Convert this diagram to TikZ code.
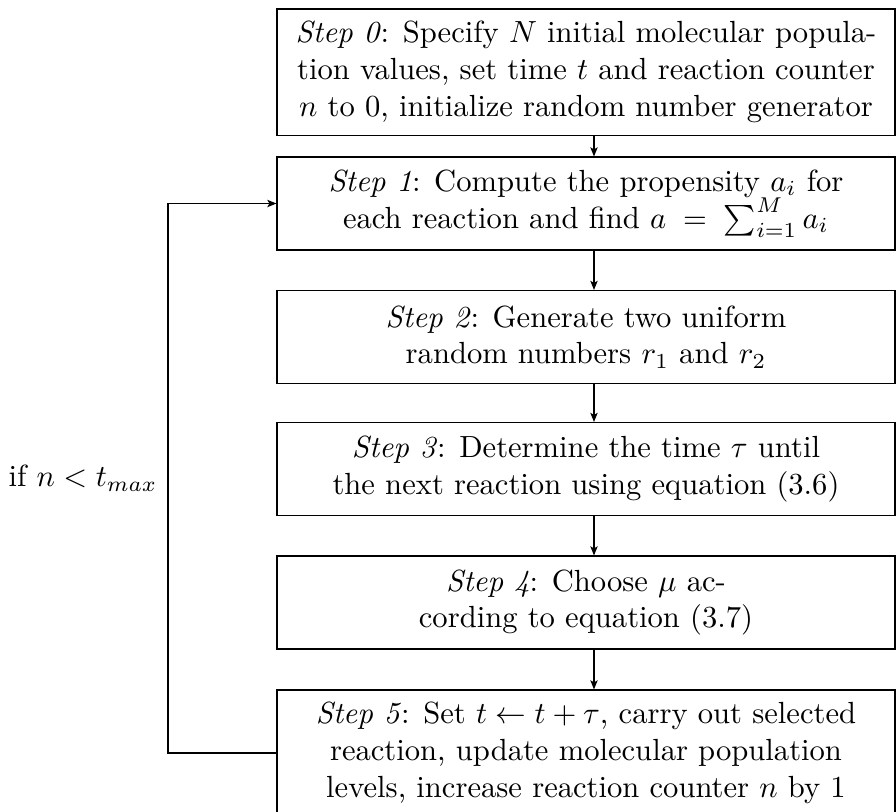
\documentclass[tikz,border=0pt]{standalone}
\usetikzlibrary{arrows.meta}
\begin{document}
\begin{tikzpicture}[x=0.3268pt,y=-0.3268pt, line width=0.35pt,
  stepbox/.style={draw, rectangle, align=center, inner sep=0pt,
    minimum width=201.96pt},
  tall/.style={minimum height=41.2pt},
  short/.style={minimum height=30.4pt},
  arr/.style={-{Stealth[length=3pt,width=2.4pt,inset=0.7pt]}}]
\useasboundingbox (0,0) rectangle (896,812);
\coordinate (ax) at (594,0);
\coordinate (lx) at (168,0);
\node[stepbox,tall]  (s0) at (586,72)
  {\textit{Step 0}: Specify $N$ initial molecular popula-\\
   tion values, set time $t$ and reaction counter\\
   $n$ to 0, initialize random number generator};
\node[stepbox,short] (s1) at (586,203.5)
  {\textit{Step 1}: Compute the propensity $a_i$ for\\
   each reaction and find $a\;=\;\sum_{i=1}^{M} a_i$};
\node[stepbox,short] (s2) at (586,337)
  {\textit{Step 2}: Generate two uniform\\
   random numbers $r_1$ and $r_2$};
\node[stepbox,short] (s3) at (586,469)
  {\textit{Step 3}: Determine the time $\tau$ until\\
   the next reaction using equation (3.6)};
\node[stepbox,short] (s4) at (586,602.5)
  {\textit{Step 4}: Choose $\mu$ ac-\\
   cording to equation (3.7)};
\node[stepbox,tall]  (s5) at (586,753)
  {\textit{Step 5}: Set $t \leftarrow t + \tau$, carry out selected\\
   reaction, update molecular population\\
   levels, increase reaction counter $n$ by 1};
\draw[arr] (s0.south -| ax) -- (s1.north -| ax);
\draw[arr] (s1.south -| ax) -- (s2.north -| ax);
\draw[arr] (s2.south -| ax) -- (s3.north -| ax);
\draw[arr] (s3.south -| ax) -- (s4.north -| ax);
\draw[arr] (s4.south -| ax) -- (s5.north -| ax);
\draw[arr] (s5.west) -- (s5.west -| lx) |- (s1.west)
  node[pos=0.25, left, inner sep=3.33pt] (lab) {if $n < t_{max}$};
\end{tikzpicture}
\end{document}
